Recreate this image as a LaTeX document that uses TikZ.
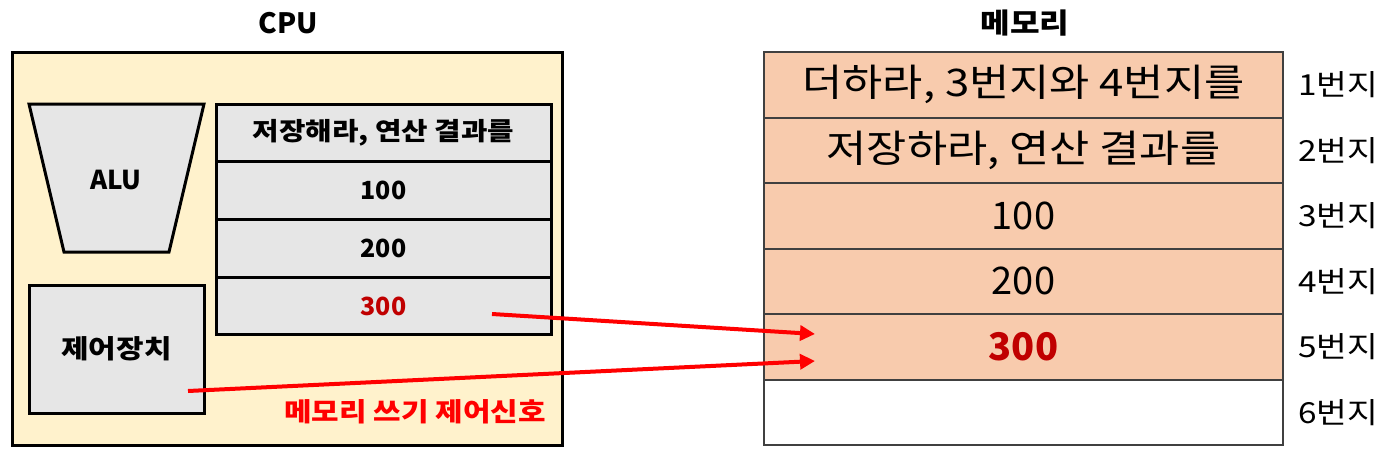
\documentclass[tikz,border=0pt]{standalone}
\usepackage{fontspec}
\setmainfont{Noto Sans CJK KR}
\usetikzlibrary{arrows.meta}
\definecolor{cpufill}{HTML}{FFF2CC}
\definecolor{greyfill}{HTML}{E6E6E6}
\definecolor{memfill}{HTML}{F8CBAD}
\definecolor{memline}{HTML}{404040}
\definecolor{darkred}{HTML}{C00000}
\definecolor{brightred}{HTML}{FF0000}
\newcommand\krwide{\addfontfeature{FakeStretch=1.15}}
\tikzset{
  regcell/.style={draw=black, line width=3pt, fill=greyfill, minimum width=335pt, minimum height=57.75pt, inner sep=0pt, font=\fontsize{25}{25}\selectfont\bfseries},
  memcell/.style={draw=memline, line width=2pt, fill=memfill, minimum width=519pt, minimum height=65.5pt, inner sep=0pt, font=\fontsize{38}{38}\selectfont},
  addr/.style={font=\fontsize{29}{29}\selectfont\krwide},
  redarrow/.style={draw=brightred, line width=4pt, -{Triangle[length=15pt,width=15pt]}},
}
\begin{document}
\begin{tikzpicture}[x=1pt,y=-1pt]
\useasboundingbox (0,0) rectangle (1390,455);
% titles
\node[font=\fontsize{28}{28}\selectfont\bfseries] (cputitle) at (288,23) {CPU};
\node[font=\fontsize{28}{28}\selectfont\bfseries\krwide] (memtitle) at (1025,23) {메모리};
% CPU box
\node[draw=black, line width=3pt, fill=cpufill, minimum width=550pt, minimum height=393pt, inner sep=0pt] (cpu) at (287,248.5) {};
% ALU
\draw[line width=3pt, fill=greyfill] (29,104) -- (204,104) -- (169,252) -- (64,252) -- cycle;
\node[font=\fontsize{26}{26}\selectfont\bfseries] (alu) at (116,180) {ALU};
% control unit
\node[draw=black, line width=3pt, fill=greyfill, minimum width=175pt, minimum height=128pt, inner sep=0pt, font=\fontsize{26}{26}\selectfont\bfseries\krwide] (ctrl) at (116.5,349) {제어장치};
% registers
\node[regcell, font=\fontsize{25}{25}\selectfont\bfseries\krwide] (r1) at (383.5,132.9) {저장해라, 연산 결과를};
\node[regcell] (r2) at (383.5,190.6) {100};
\node[regcell] (r3) at (383.5,248.4) {200};
\node[regcell] (r4) at (383.5,306.1) {\textcolor{darkred}{300}};
% red label
\node[font=\fontsize{26}{26}\selectfont\bfseries\krwide, text=brightred] (sig) at (415,412) {메모리 쓰기 제어신호};
% memory
\node[memcell, font=\fontsize{38}{38}\selectfont\krwide] (m1) at (1023.5,84.75) {더하라, 3번지와 4번지를};
\node[memcell, font=\fontsize{38}{38}\selectfont\krwide] (m2) at (1023.5,150.25) {저장하라, 연산 결과를};
\node[memcell] (m3) at (1023.5,215.75) {100};
\node[memcell] (m4) at (1023.5,281.25) {200};
\node[memcell, font=\fontsize{38}{38}\selectfont\bfseries, text=darkred] (m5) at (1023.5,346.75) {300};
\node[memcell, fill=white] (m6) at (1023.5,412.25) {};
% addresses
\node[addr] (a1) at (1338,84.75) {1번지};
\node[addr] (a2) at (1338,150.25) {2번지};
\node[addr] (a3) at (1338,215.75) {3번지};
\node[addr] (a4) at (1338,281.25) {4번지};
\node[addr] (a5) at (1338,346.75) {5번지};
\node[addr] (a6) at (1338,412.25) {6번지};
% arrows
\coordinate (s1) at (492,314);
\coordinate (t1) at (815,334);
\coordinate (s2) at (188,391);
\coordinate (t2) at (815,361);
\draw[redarrow] (s1) -- (t1);
\draw[redarrow] (s2) -- (t2);
\end{tikzpicture}
\end{document}
